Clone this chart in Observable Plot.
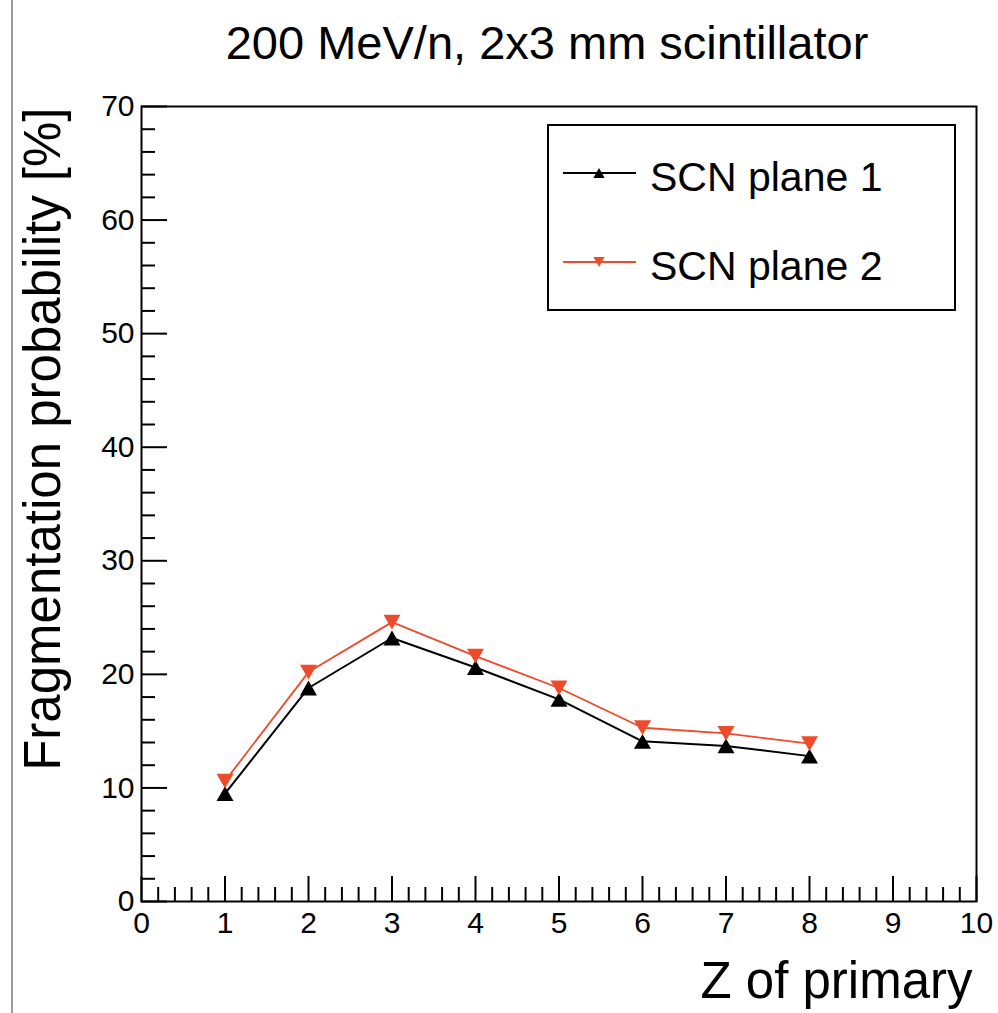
<!DOCTYPE html>
<html>
<head>
<meta charset="utf-8">
<script src="https://cdn.jsdelivr.net/npm/d3@7"></script>
<script src="https://cdn.jsdelivr.net/npm/@observablehq/plot@0.6"></script>
<style>
  html, body { margin: 0; padding: 0; background: #fff; }
  #wrap { position: relative; width: 998px; height: 1013px; overflow: hidden; }
  #wrap::before { content: ""; position: absolute; left: 11px; top: 0; width: 2px; height: 1013px; background: #9a9a9a; }
</style>
</head>
<body>
<div id="wrap"></div>
<script>
// Fragmentation probability per primary charge, two scintillator planes
const zPrimary = [1, 2, 3, 4, 5, 6, 7, 8];
const plane1 = [9.5, 18.8, 23.2, 20.6, 17.8, 14.1, 13.7, 12.8];
const plane2 = [10.6, 20.2, 24.6, 21.6, 18.8, 15.3, 14.8, 13.9];
const seriesNames = ["SCN plane 1", "SCN plane 2"];
const seriesColors = ["#000000", "#ee4a2c"];

const titleText = "200 MeV/n, 2x3 mm scintillator";
const xTitle = "Z of primary";
const yTitle = "Fragmentation probability [%]";

const xMajor = d3.range(0, 11, 1);
const xMinor = d3.range(0, 10.01, 0.2).filter(v => Math.abs(v - Math.round(v)) > 1e-6);
const yMajor = d3.range(0, 71, 10);
const yMinor = d3.range(0, 70.01, 2).filter(v => v % 10 !== 0);

const rows1 = zPrimary.map((z, i) => ({z, v: plane1[i]}));
const rows2 = zPrimary.map((z, i) => ({z, v: plane2[i]}));

const W = 998, H = 1013;
const mL = 141, mR = 22, mT = 106, mB = 112;
const frameW = W - mL - mR, frameH = H - mT - mB;
const FONT = "'Liberation Sans', Arial, Helvetica, sans-serif";

// ROOT-style markers: filled triangles pointing up / down
const triUp = {draw(ctx, size) {
  const r = Math.sqrt(size / Math.PI), h = r * 0.875;
  ctx.moveTo(0, -h); ctx.lineTo(r, h); ctx.lineTo(-r, h); ctx.closePath();
}};
const triDown = {draw(ctx, size) {
  const r = Math.sqrt(size / Math.PI), h = r * 0.875;
  ctx.moveTo(0, h); ctx.lineTo(r, -h); ctx.lineTo(-r, -h); ctx.closePath();
}};

// Legend box drawn inside the frame
function legend(index, scales, values, dims) {
  const g = d3.create("svg:g");
  const x0 = dims.marginLeft, y0 = dims.marginTop;
  g.append("rect")
    .attr("x", x0 + 407).attr("y", y0 + 19)
    .attr("width", 407).attr("height", 185)
    .attr("fill", "white").attr("stroke", "black").attr("stroke-width", 2);
  const rowsY = [y0 + 67, y0 + 156];
  const syms = [d3.symbol(triUp, 100), d3.symbol(triDown, 100)];
  seriesNames.forEach((name, i) => {
    const yy = rowsY[i];
    g.append("line")
      .attr("x1", x0 + 422).attr("x2", x0 + 495)
      .attr("y1", yy).attr("y2", yy)
      .attr("stroke", seriesColors[i]).attr("stroke-width", 1.8);
    g.append("path")
      .attr("d", syms[i]())
      .attr("transform", `translate(${x0 + 458},${yy})`)
      .attr("fill", seriesColors[i]);
    g.append("text")
      .attr("x", x0 + 509).attr("y", yy + 18)
      .attr("text-anchor", "start")
      .attr("font-size", 41).attr("font-family", FONT)
      .attr("fill", "black")
      .text(name);
  });
  return g.node();
}

const chart = Plot.plot({
  width: W,
  height: H,
  marginLeft: mL,
  marginRight: mR,
  marginTop: mT,
  marginBottom: mB,
  style: {fontFamily: FONT, background: "white", color: "black", overflow: "visible"},
  x: {domain: [0, 10]},
  y: {domain: [0, 70]},
  marks: [
    // tick labels
    Plot.axisX(xMajor, {tickSize: 0, tickPadding: 10, fontSize: 30, label: null, tickFormat: d => d}),
    Plot.axisY(yMajor, {tickSize: 0, tickPadding: 7, fontSize: 30, label: null, tickFormat: d => d}),
    // inward ticks
    Plot.tickX(xMajor, {x: d => d, insetTop: frameH - 25, strokeWidth: 2}),
    Plot.tickX(xMinor, {x: d => d, insetTop: frameH - 14, strokeWidth: 2}),
    Plot.tickY(yMajor, {y: d => d, insetRight: frameW - 26, strokeWidth: 2}),
    Plot.tickY(yMinor, {y: d => d, insetRight: frameW - 14, strokeWidth: 2}),
    Plot.frame({stroke: "black", strokeWidth: 2}),
    // data
    Plot.line(rows1, {x: "z", y: "v", stroke: seriesColors[0], strokeWidth: 2}),
    Plot.line(rows2, {x: "z", y: "v", stroke: seriesColors[1], strokeWidth: 1.8}),
    Plot.dot(rows1, {x: "z", y: "v", symbol: triUp, r: 8.5, fill: seriesColors[0], stroke: "none"}),
    Plot.dot(rows2, {x: "z", y: "v", symbol: triDown, r: 8.5, fill: seriesColors[1], stroke: "none"}),
    // titles
    Plot.text([titleText], {text: d => d, frameAnchor: "top", lineAnchor: "bottom", dx: -12, dy: -48, fontSize: 47}),
    Plot.text([xTitle], {text: d => d, frameAnchor: "bottom-right", textAnchor: "end", lineAnchor: "bottom", dx: -4, dy: 96, fontSize: 51}),
    Plot.text([yTitle], {text: d => d, frameAnchor: "top-left", textAnchor: "end", lineAnchor: "bottom", rotate: -90, dx: -82, dy: 1, fontSize: 51}),
    legend
  ]
});

document.getElementById("wrap").appendChild(chart);
</script>
</body>
</html>
